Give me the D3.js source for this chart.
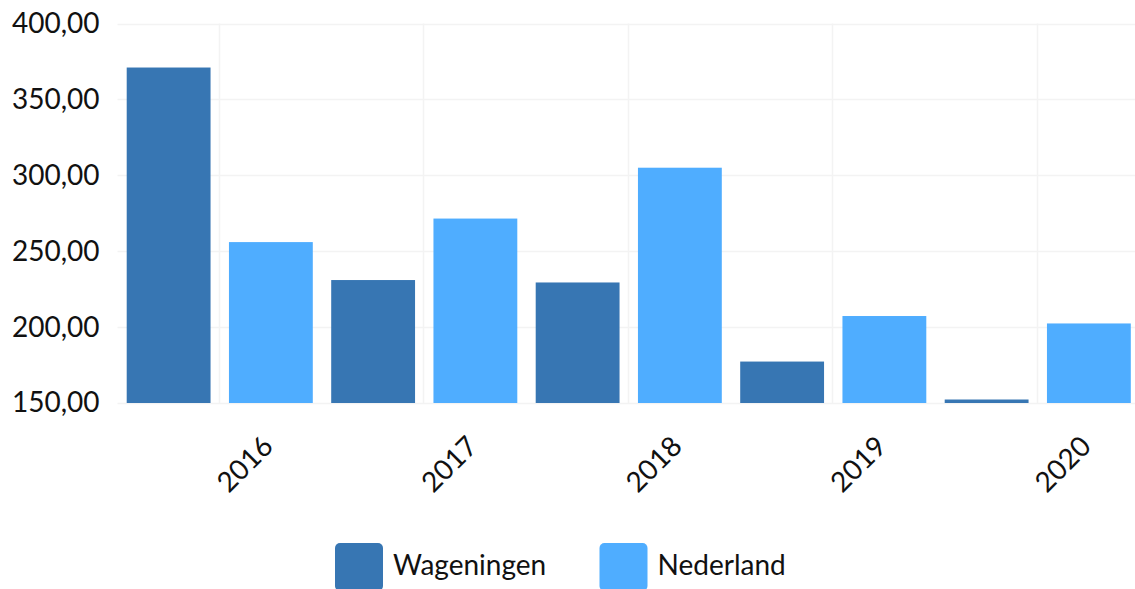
<!DOCTYPE html>
<html>
<head>
<meta charset="utf-8">
<script src="https://cdn.jsdelivr.net/npm/d3@7"></script>
<style>
  html, body { margin: 0; padding: 0; background: #fff; }
  svg { display: block; font-family: Lato, "Open Sans", sans-serif; }
</style>
</head>
<body>
<svg id="chart" width="1135" height="589"></svg>
<script>
var years = ["2016", "2017", "2018", "2019", "2020"];
var series = ["Wageningen", "Nederland"];
var wageningen = [371, 231, 229.4, 177.3, 152.3];
var nederland = [256, 271.5, 305, 207.3, 202.4];
var yTicks = [150, 200, 250, 300, 350, 400];
var colors = ["#3776b3", "#4fadff"];

var width = 1135,
    height = 589,
    plotLeft = 117.5,
    plotRight = 1140,
    plotTop = 23.5,
    plotBottom = 403;

var svg = d3.select("#chart");

var x0 = d3.scaleBand()
  .domain(years)
  .range([plotLeft, plotRight])
  .padding(0);

var x1 = d3.scaleBand()
  .domain(series)
  .range([0, x0.bandwidth()])
  .paddingInner(0.18)
  .paddingOuter(0.09);

var y = d3.scaleLinear()
  .domain([150, 400])
  .range([plotBottom, plotTop]);

var fmt = function(d){ return d3.format(".2f")(d).replace(".", ","); };

// grid lines
var grid = svg.append("g").attr("class", "grid");
grid.selectAll("line.h")
  .data(yTicks)
  .join("line")
  .attr("class", "h")
  .attr("x1", plotLeft)
  .attr("x2", width)
  .attr("y1", function(d){ return Math.round(y(d)) + 0.5; })
  .attr("y2", function(d){ return Math.round(y(d)) + 0.5; })
  .style("stroke", "#f3f3f3")
  .style("stroke-width", 1.5);

grid.selectAll("line.v")
  .data(years)
  .join("line")
  .attr("class", "v")
  .attr("x1", function(d){ return Math.round(x0(d) + x0.bandwidth() / 2) - 0.5; })
  .attr("x2", function(d){ return Math.round(x0(d) + x0.bandwidth() / 2) - 0.5; })
  .attr("y1", plotTop)
  .attr("y2", plotBottom)
  .style("stroke", "#f3f3f3")
  .style("stroke-width", 1.5);

// y axis labels
var yAxis = d3.axisLeft(y)
  .tickValues(yTicks)
  .tickSize(0)
  .tickPadding(18)
  .tickFormat(fmt);

svg.append("g")
  .attr("transform", "translate(" + plotLeft + ",0)")
  .call(yAxis)
  .call(function(g){ g.select(".domain").remove(); })
  .selectAll("text")
  .style("font-family", "Lato, sans-serif")
  .style("font-size", "28px")
  .style("fill", "#111");

// bars
var rows = years.map(function(d, i){
  return {year: d, values: [wageningen[i], nederland[i]]};
});

var groups = svg.append("g").attr("class", "bars")
  .selectAll("g")
  .data(rows)
  .join("g")
  .attr("transform", function(d){ return "translate(" + x0(d.year) + ",0)"; });

groups.selectAll("rect")
  .data(function(d){ return d.values.map(function(v, j){ return {key: series[j], value: v, i: j}; }); })
  .join("rect")
  .attr("x", function(d){ return x1(d.key); })
  .attr("width", x1.bandwidth())
  .attr("y", function(d){ return y(d.value); })
  .attr("height", function(d){ return y(150) - y(d.value); })
  .style("fill", function(d){ return colors[d.i]; });

// x axis labels (rotated)
var xAxis = d3.axisBottom(x0)
  .tickSize(0)
  .tickPadding(0);

svg.append("g")
  .attr("transform", "translate(0," + plotBottom + ")")
  .call(xAxis)
  .call(function(g){ g.select(".domain").remove(); })
  .selectAll("text")
  .attr("y", 0)
  .attr("dy", 0)
  .style("text-anchor", "end")
  .style("font-family", "Lato, sans-serif")
  .style("font-size", "28px")
  .style("fill", "#111")
  .attr("transform", "translate(55,45) rotate(-45)");

// legend
var legendData = [
  {name: series[0], color: colors[0], x: 335},
  {name: series[1], color: colors[1], x: 599.5}
];

var legend = svg.append("g").attr("class", "legend")
  .selectAll("g")
  .data(legendData)
  .join("g")
  .attr("transform", function(d){ return "translate(" + d.x + ",543)"; });

legend.append("rect")
  .attr("width", 48)
  .attr("height", 48)
  .attr("rx", 5)
  .style("fill", function(d){ return d.color; });

legend.append("text")
  .attr("x", 58)
  .attr("y", 32)
  .style("font-family", "Lato, sans-serif")
  .style("font-size", "28px")
  .style("fill", "#111")
  .text(function(d){ return d.name; });
</script>
</body>
</html>
